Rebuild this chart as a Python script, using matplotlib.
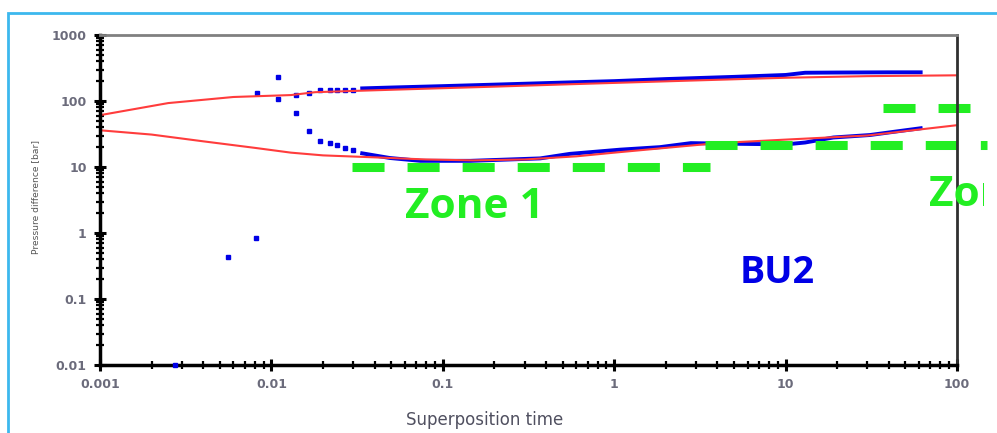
import matplotlib
matplotlib.use("Agg")
import matplotlib.pyplot as plt
from matplotlib.patches import Rectangle
from matplotlib.ticker import FuncFormatter, LogLocator
from matplotlib.transforms import Bbox

# pressure model (red) and measured (blue)
model_t = [0.001, 0.0025, 0.006, 0.013, 0.018, 0.03, 0.07, 0.2, 0.5, 1, 3, 10, 30, 100]
model_p = [61, 93, 115, 123, 136, 142, 152, 165, 178, 188, 205, 225, 238, 245]

deriv_model_t = [0.001, 0.002, 0.004, 0.008, 0.013, 0.02, 0.04, 0.08, 0.15, 0.3, 0.6, 1, 2, 4, 10, 30, 100]
deriv_model_d = [36, 31, 24.5, 19.5, 16.5, 15, 14, 13, 12.6, 13, 14.5, 16.5, 19.5, 23, 26, 30, 43]

meas_t = [0.033, 0.05, 0.1, 0.2, 0.5, 1, 2, 5, 10, 13, 20, 40, 63]
meas_p = [155, 160, 168, 177, 190, 200, 215, 232, 248, 268, 270, 272, 272]
meas_pts_t = [0.0082, 0.011, 0.0139, 0.0166, 0.0192, 0.022, 0.024, 0.027, 0.03]
meas_pts_p = [132, 107, 123, 132, 147, 147, 147, 147, 147]

deriv_t = [0.033, 0.049, 0.074, 0.145, 0.37, 0.55, 1.08, 1.85, 2.8, 5, 10, 13, 19, 31, 46, 63]
deriv_d = [16.3, 13.7, 12.4, 12.4, 13.5, 15.8, 18.3, 20, 23, 22.5, 22, 23.5, 28, 30.5, 35, 39]
deriv_pts_t = [0.00275, 0.0056, 0.0081, 0.011, 0.0139, 0.0166, 0.0192, 0.022, 0.024, 0.027, 0.03]
deriv_pts_d = [0.01, 0.43, 0.84, 230, 66, 35, 24.6, 23, 21.5, 19.5, 18]

# green zone markers: (t start, t end, level)
zone_lines = [(0.0295, 3.6, 10), (3.4, 150, 21.5), (37, 119, 78)]

fig = plt.figure(figsize=(9.97, 4.33), dpi=100)
ax = fig.add_axes([100/997, 1-365/433, 857/997, 330/433])

blue = "#0000e6"
red = "#ff3c3c"
green = "#22ee22"

ax.plot(meas_t, meas_p, color=blue, lw=2.8, solid_capstyle="butt")
ax.plot(deriv_t, deriv_d, color=blue, lw=2.8, solid_capstyle="butt")
ax.plot(meas_pts_t, meas_pts_p, "s", color=blue, ms=3.2, lw=0)
ax.plot(deriv_pts_t, deriv_pts_d, "s", color=blue, ms=3.2, lw=0, clip_on=False, zorder=5)
ax.plot(model_t, model_p, color=red, lw=1.5)
ax.plot(deriv_model_t, deriv_model_d, color=red, lw=1.5)

for t0, t1, lev in zone_lines:
    ax.plot([t0, t1], [lev, lev], color=green, lw=6.5, dashes=(3.55, 2.55),
            solid_capstyle="butt", dash_capstyle="butt", clip_on=False)

ax.set_xscale("log")
ax.set_yscale("log")
ax.set_xlim(0.001, 100)
ax.set_ylim(0.01, 1000)

fmt = FuncFormatter(lambda v, p: "%g" % v)
ax.xaxis.set_major_formatter(fmt)
ax.yaxis.set_major_formatter(fmt)
ax.xaxis.set_minor_locator(LogLocator(subs=range(2, 10)))
ax.yaxis.set_minor_locator(LogLocator(subs=range(2, 10)))
ax.xaxis.set_minor_formatter(FuncFormatter(lambda v, p: ""))
ax.yaxis.set_minor_formatter(FuncFormatter(lambda v, p: ""))
ax.tick_params(which="major", direction="inout", length=9, width=2.2, color="black",
               labelsize=9, labelcolor="#6b6b7b", pad=5)
ax.tick_params(which="minor", direction="inout", length=6, width=1.6, color="black")

for lab in ax.get_xticklabels() + ax.get_yticklabels():
    lab.set_fontfamily("DejaVu Sans")
    lab.set_fontweight("bold")

ax.spines["left"].set_linewidth(2.5)
ax.spines["bottom"].set_linewidth(2.5)
ax.spines["top"].set_color("#808080")
ax.spines["top"].set_linewidth(2)
ax.spines["right"].set_color("#303030")
ax.spines["right"].set_linewidth(2)

ax.set_xlabel("Superposition time", fontsize=12, color="#505060", family="DejaVu Sans")
ax.xaxis.set_label_coords((485 - 100) / 857, -(420 - 365) / 330)
ax.xaxis.label.set_va("center")
fig.text(36/997, 1-197/433, "Pressure difference [bar]", rotation=90, ha="center", va="center",
         fontsize=6.6, color="#555555", family="Liberation Sans Narrow")

fig.text(474/997, 1-208/433, "Zone 1", color=green, fontsize=30.5, fontweight="bold",
         family="Open Sans", ha="center", va="center")
z2 = fig.text(929/997, 1-195/433, "Zone 2", color=green, fontsize=30.5, fontweight="bold",
              family="Open Sans", ha="left", va="center")
z2.set_clip_box(Bbox.from_extents(0, 0, 984, 433))
z2.set_clip_on(True)
fig.text(777/997, 1-273/433, "BU2", color=blue, fontsize=27, fontweight="bold",
         family="Open Sans", ha="center", va="center")

# outer frame
fig.patches.append(Rectangle((8/997, -0.1), 1.2, 1.1 - 13/433, transform=fig.transFigure,
                             fill=False, edgecolor="#3cb8ee", lw=2))

fig.savefig("out.png", dpi=100)
